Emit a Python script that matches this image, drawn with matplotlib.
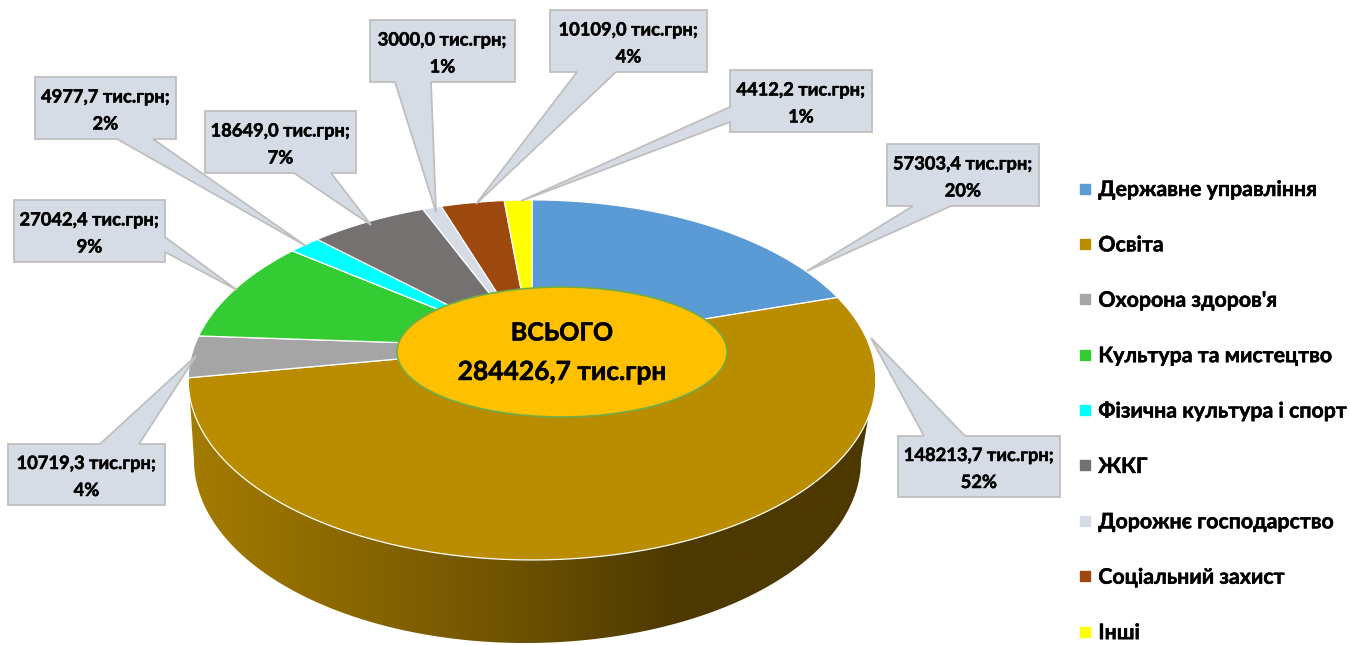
import numpy as np
import matplotlib
matplotlib.use("Agg")
import matplotlib.pyplot as plt
import matplotlib.patheffects as pe
from matplotlib.lines import Line2D
from matplotlib.patches import Polygon, Ellipse

plt.rcParams['font.family'] = ['Lato', 'Open Sans', 'DejaVu Sans']

categories = ["Державне управління", "Освіта", "Охорона здоров'я", "Культура та мистецтво",
              "Фізична культура і спорт", "ЖКГ", "Дорожнє господарство", "Соціальний захист", "Інші"]
values = [57303.4, 148213.7, 10719.3, 27042.4, 4977.7, 18649.0, 3000.0, 10109.0, 4412.2]
value_labels = ["57303,4", "148213,7", "10719,3", "27042,4", "4977,7", "18649,0", "3000,0", "10109,0", "4412,2"]
percent_labels = ["20%", "52%", "4%", "9%", "2%", "7%", "1%", "4%", "1%"]
total_label = "284426,7 тис.грн"
center_title = "ВСЬОГО"

colors = ["#5B9BD5", "#BA8C00", "#A5A5A5", "#33CC33", "#00FFFF", "#767171", "#D6DCE5", "#9C480E", "#FFFF00"]

# layout of callouts (pixels): box x0, x1, y0, y1, pointer side, base a, base b, tip x, tip y
callouts = [
    (887, 1039, 144, 206, 'bottom', 913, 951, 807, 271),
    (898, 1060, 436, 497, 'top', 924, 965, 871, 338),
    (8, 165, 444, 505, 'top', 100, 139, 196, 356),
    (14, 165, 200, 262, 'right', 237, 252, 237, 290),
    (35, 176, 77, 139, 'bottom', 117, 153, 306, 246),
    (205, 356, 111, 173, 'bottom', 294, 331, 371, 225),
    (370, 515, 20, 82, 'bottom', 395, 431, 436, 212),
    (550, 707, 10, 72, 'bottom', 577, 616, 476, 204),
    (730, 872, 70, 132, 'left', 107, 122, 521, 201),
]

CX, CY, A, B, K = 532.0, 347.0, 338.0, 174.0, 0.183


def project(theta):
    u, v = np.sin(theta), np.cos(theta)
    d = 1 + K * v
    return CX + A * u / d, CY - B * v / d


fig = plt.figure(figsize=(13.5, 6.45), dpi=100)
ax = fig.add_axes([0, 0, 1, 1])
ax.set_xlim(0, 1350)
ax.set_ylim(645, 0)
ax.axis('off')

# side wall
t = np.linspace(0, np.pi, 200)
wx = 525 - np.where(np.cos(t) > 0, 331, 336) * np.cos(t)
wy = 460 + 183 * np.sin(t)
wall_xy = np.column_stack([np.r_[190, 190, wx, 873], np.r_[385, 400, wy, 390]])
wall = Polygon(wall_xy, closed=True, fc='none', ec='none', transform=ax.transData)
ax.add_patch(wall)
stops_x = [188, 430, 500, 680, 880]
stops_r = [0xA4, 0x7C, 0x70, 0x4D, 0x4D]
stops_g = [0x7C, 0x5D, 0x54, 0x39, 0x39]
xs = np.arange(188, 881)
grad = np.dstack([np.interp(xs, stops_x, stops_r), np.interp(xs, stops_x, stops_g), np.zeros_like(xs)]) / 255
im = ax.imshow(grad, extent=(188, 880, 645, 370), aspect='auto', zorder=1)
im.set_clip_path(wall)
ax.set_xlim(0, 1350)
ax.set_ylim(645, 0)

# top surface
fractions = np.cumsum([0] + values) / sum(values)
for i, c in enumerate(colors):
    th = np.linspace(fractions[i], fractions[i + 1], 120) * 2 * np.pi
    x, y = project(th)
    ax.fill(np.r_[CX, x], np.r_[CY, y], fc=c, ec='white', lw=0.9, zorder=2, joinstyle='round')

thick = [pe.withStroke(linewidth=0.35, foreground='black')]

# centre ellipse
ax.add_patch(Ellipse((562, 352), 330, 130, fc='#FFC000', ec='#70AD47', lw=1.2, zorder=3))
ax.text(562, 333, center_title, ha='center', va='center', fontsize=18, fontweight='bold', color='black',
        zorder=4, path_effects=thick)
ax.text(562, 372, total_label, ha='center', va='center', fontsize=19, fontweight='bold', color='black',
        zorder=4, path_effects=thick)

# callouts
for (x0, x1, y0, y1, side, a, b, tx, ty), val, pct in zip(callouts, value_labels, percent_labels):
    if side == 'bottom':
        pts = [(x0, y0), (x1, y0), (x1, y1), (b, y1), (tx, ty), (a, y1), (x0, y1)]
    elif side == 'top':
        pts = [(x0, y0), (a, y0), (tx, ty), (b, y0), (x1, y0), (x1, y1), (x0, y1)]
    elif side == 'right':
        pts = [(x0, y0), (x1, y0), (x1, a), (tx, ty), (x1, b), (x1, y1), (x0, y1)]
    else:
        pts = [(x0, y0), (x1, y0), (x1, y1), (x0, y1), (x0, b), (tx, ty), (x0, a)]
    ax.add_patch(Polygon(pts, closed=True, fc='#D6DCE5', ec='#BFBFBF', lw=1.3, zorder=5))
    xc = (x0 + x1) / 2
    ym = (y0 + y1) / 2
    ax.text(xc, ym - 11, f"{val} тис.грн;", ha='center', va='center', fontsize=13.2,
            fontweight='bold', color='black', zorder=6, path_effects=thick)
    ax.text(xc, ym + 16, pct, ha='center', va='center', fontsize=13.2,
            fontweight='bold', color='black', zorder=6, path_effects=thick)

# legend
handles = [Line2D([], [], linestyle='none', marker='s', markersize=7.2, color=c, label=n)
           for c, n in zip(colors, categories)]
leg = ax.legend(handles=handles, loc='upper left', bbox_to_anchor=(1074, 180), bbox_transform=ax.transData,
                frameon=False, borderaxespad=0, borderpad=0, handlelength=1.0, handletextpad=0.14,
                labelspacing=1.66, prop={'size': 15.35, 'weight': 'bold'}, labelcolor='black')
for txt in leg.get_texts():
    txt.set_path_effects(thick)

fig.savefig('out.png', dpi=100)
